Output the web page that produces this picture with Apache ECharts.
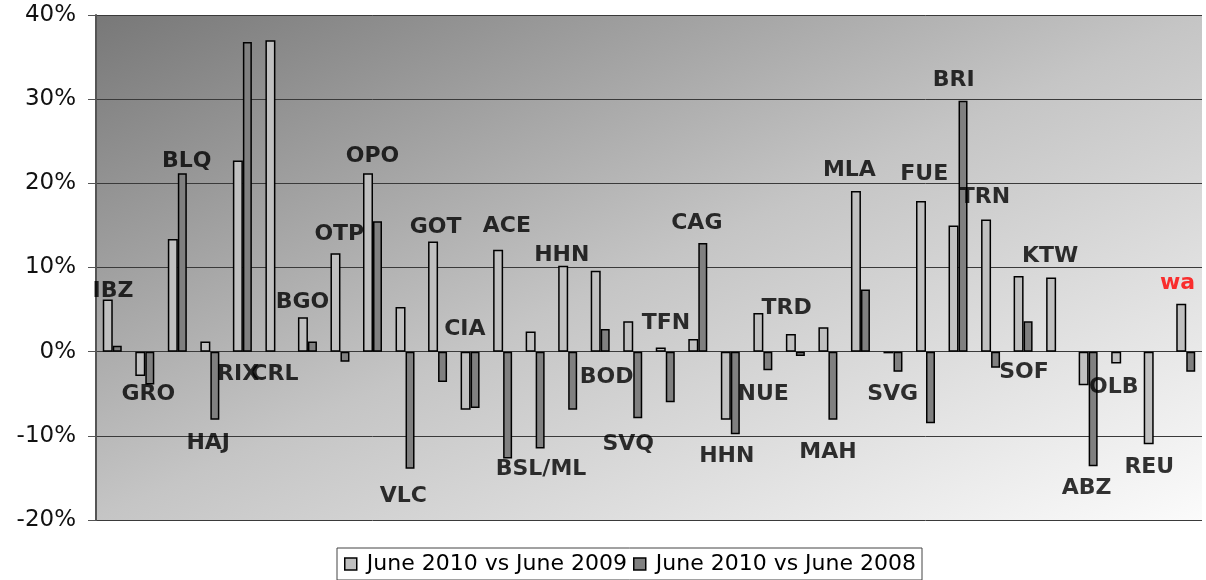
<!DOCTYPE html>
<html>
<head>
<meta charset="utf-8">
<script src="https://cdn.jsdelivr.net/npm/echarts@6/dist/echarts.min.js"></script>
<style>
html, body { margin: 0; padding: 0; background: #fff; }
#main { width: 1206px; height: 580px; }
</style>
</head>
<body>
<div id="main"></div>
<script>
var categories = ['IBZ', 'GRO', 'BLQ', 'HAJ', 'RIX', 'CRL', 'BGO', 'OTP', 'OPO', 'VLC', 'GOT', 'CIA',
	'ACE', 'BSL/ML', 'HHN', 'BOD', 'SVQ', 'TFN', 'CAG', 'HHN', 'NUE', 'TRD', 'MAH', 'MLA', 'SVG',
	'FUE', 'BRI', 'TRN', 'SOF', 'KTW', 'ABZ', 'OLB', 'REU', 'wa'];
var vs2009 = [6.2, -2.9, 13.4, 1.2, 22.7, 37.0, 4.1, 11.7, 21.2, 5.3, 13.1, -6.9,
	12.1, 2.4, 10.2, 9.6, 3.6, 0.5, 1.5, -8.1, 4.6, 2.1, 2.9, 19.1, -0.2,
	17.9, 15.0, 15.7, 9.0, 8.8, -4.0, -1.4, -11.0, 5.7];
var vs2008 = [0.7, -3.9, 21.2, -8.1, 36.8, null, 1.2, -1.2, 15.5, -13.9, -3.6, -6.7,
	-12.7, -11.5, -6.9, 2.7, -7.9, -6.0, 12.9, -9.8, -2.2, -0.5, -8.1, 7.4, -2.4,
	-8.5, 29.8, -1.9, 3.6, null, -13.6, null, null, -2.4];
// label anchors: [category position, value, text]
var labelPos = [
	[0.02, 7.2, 'IBZ'], [1.11, -5.1, 'GRO'], [2.29, 22.6, 'BLQ'], [2.95, -10.9, 'HAJ'],
	[3.87, -2.7, 'RIX'], [5.0, -2.7, 'CRL'], [5.85, 5.85, 'BGO'], [6.98, 14.0, 'OTP'],
	[8.0, 23.2, 'OPO'], [8.95, -17.2, 'VLC'], [9.94, 14.8, 'GOT'], [10.84, 2.7, 'CIA'],
	[12.13, 14.9, 'ACE'], [13.18, -14.0, 'BSL/ML'], [13.82, 11.5, 'HHN'], [15.2, -3.0, 'BOD'],
	[15.86, -11.0, 'SVQ'], [17.02, 3.35, 'TFN'], [17.97, 15.3, 'CAG'], [18.89, -12.4, 'HHN'],
	[20.01, -5.1, 'NUE'], [20.73, 5.2, 'TRD'], [22.0, -12.0, 'MAH'], [22.66, 21.6, 'MLA'],
	[23.99, -5.1, 'SVG'], [24.96, 21.1, 'FUE'], [25.87, 32.3, 'BRI'], [26.83, 18.3, 'TRN'],
	[28.03, -2.5, 'SOF'], [28.83, 11.3, 'KTW'], [29.95, -16.2, 'ABZ'], [30.79, -4.2, 'OLB'],
	[31.88, -13.7, 'REU'], [32.75, 8.1, 'wa']
];
var yTicks = [-20, -10, 0, 10, 20, 30, 40];

var myChart = echarts.init(document.getElementById('main'));
var labelData = labelPos.map(function(p) {
	var d = { value: [p[0], p[1]], name: p[2] };
	if (p[2] === 'wa') {
		d.label = { color: '#ff0000' };
	}
	return d;
});

var option = {
	animation: false,
	textStyle: { fontFamily: 'DejaVu Sans' },
	grid: {
		left: 96,
		right: 4,
		top: 15,
		bottom: 60,
		show: true,
		borderWidth: 0,
		// diagonal fill, dark top-left to light bottom-right
		backgroundColor: new echarts.graphic.LinearGradient(96, 15, 476, 850, [
			{ offset: 0, color: '#787878' },
			{ offset: 0.5, color: '#c5c5c5' },
			{ offset: 1, color: '#fbfbfb' }
		], true)
	},
	legend: {
		data: ['June 2010 vs June 2009', 'June 2010 vs June 2008'],
		bottom: 0,
		left: 337,
		itemWidth: 12,
		itemHeight: 12,
		itemGap: 6,
		icon: 'rect',
		borderColor: '#444',
		borderWidth: 1,
		padding: [5, 6, 5, 7],
		itemStyle: { borderColor: '#000', borderWidth: 1.5 },
		textStyle: { fontSize: 22, color: '#000', fontFamily: 'DejaVu Sans', padding: [0, 0, 0, 5] }
	},
	xAxis: [{
		type: 'category',
		data: categories,
		axisLine: { show: false },
		axisTick: { show: false },
		axisLabel: { show: false }
	}, {
		type: 'value',
		min: -0.5,
		max: categories.length - 0.5,
		show: false
	}],
	yAxis: {
		type: 'value',
		min: yTicks[0],
		max: yTicks[yTicks.length - 1],
		interval: 10,
		axisLine: { show: true, onZero: false, lineStyle: { color: '#555', width: 2 } },
		axisTick: { show: true, length: 8, lineStyle: { color: '#555' } },
		splitLine: { show: true, lineStyle: { color: '#3a3a3a', width: 1 } },
		axisLabel: {
			fontSize: 23,
			color: '#111',
			margin: 20,
			formatter: function(v) { return v + '%'; }
		}
	},
	series: [{
		name: 'June 2010 vs June 2009',
		type: 'bar',
		data: vs2009,
		barWidth: 10,
		barGap: '0%',
		itemStyle: { color: '#c0c0c0', borderColor: '#000', borderWidth: 1.5 }
	}, {
		name: 'June 2010 vs June 2008',
		type: 'bar',
		data: vs2008,
		barWidth: 9,
		itemStyle: { color: '#808080', borderColor: '#000', borderWidth: 1.5 }
	}, {
		type: 'scatter',
		xAxisIndex: 1,
		symbolSize: 0,
		silent: true,
		data: labelData,
		label: {
			show: true,
			position: 'inside',
			formatter: '{b}',
			fontSize: 22,
			fontWeight: 'bold',
			fontFamily: 'DejaVu Sans',
			color: '#000'
		},
		z: 10
	}]
};
myChart.setOption(option);
</script>
</body>
</html>
